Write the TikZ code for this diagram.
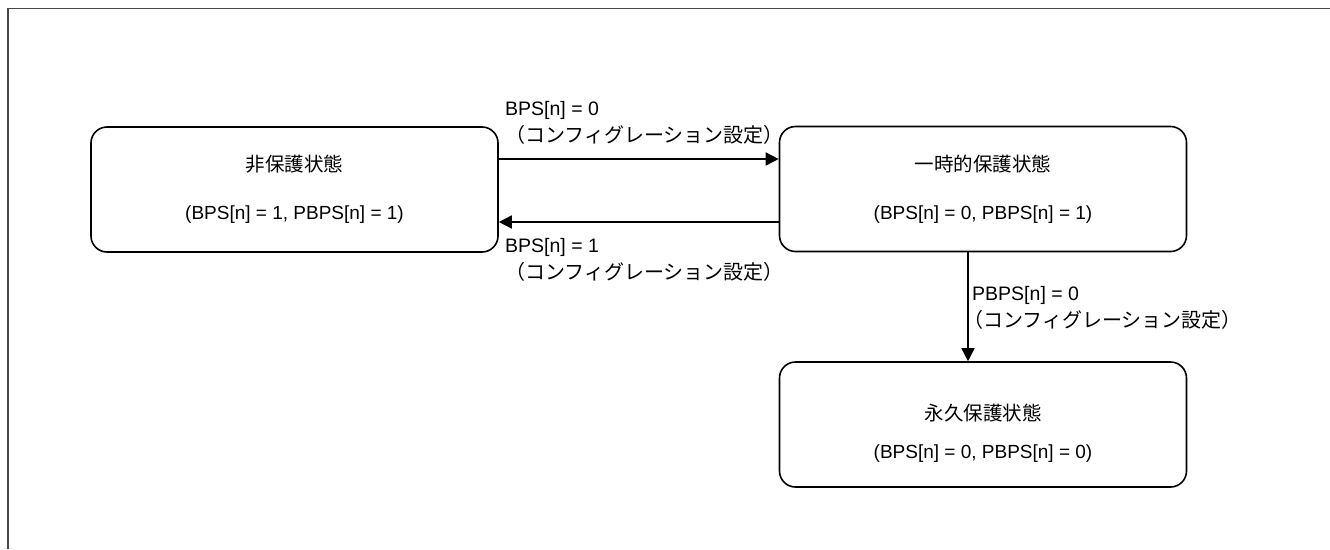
\documentclass[tikz,border=0pt]{standalone}
\usepackage{fontspec}
\setmainfont{Liberation Sans}
\newfontfamily\jp{Noto Sans CJK JP}
\usetikzlibrary{arrows.meta}
\tikzset{
    state box/.style = {draw, line width=1.6pt, rounded corners=16pt, minimum width=407pt,
        minimum height=125pt, align=center, inner sep=0pt, font=\fontsize{19}{48}\selectfont},
}
\tikzset{
    trans/.style = {draw, line width=1.5pt, -{Triangle[length=13pt, width=13pt]}},
    cond/.style = {anchor=west, align=left, inner sep=0pt, font=\fontsize{19.5}{27}\selectfont},
    frame line/.style = {draw, line width=1.3pt, black!72},
}
\newcommand{\cjkbox}[1]{{\jp\fontsize{19.5}{48}\selectfont #1}}
\newcommand{\cjklbl}[1]{{\jp\fontsize{20}{27}\selectfont #1}}

\begin{document}
\begin{tikzpicture}[x=1pt, y=-1pt]
    \useasboundingbox (0, 0) rectangle (1330, 549);
    \draw[frame line] (8, 549) -- (8, 8.5) -- (1330, 8.5);

    \node[state box] (unprot) at (294.5, 189.5) {\cjkbox{非保護状態}\\(BPS[n] = 1, PBPS[n] = 1)};
    \node[state box] (tmp) at (983, 189) {\cjkbox{一時的保護状態}\\(BPS[n] = 0, PBPS[n] = 1)};
    % title sits lower in this one
    \node[state box, font=\fontsize{19}{38}\selectfont] (perm) at (983, 424.5)
        {\cjkbox{\rule{0pt}{33pt}永久保護状態}\\(BPS[n] = 0, PBPS[n] = 0)};

    \node[cond] (set0) at (505, 123) {BPS[n] = 0\\\cjklbl{（コンフィグレーション設定）}};
    \node[cond] (set1) at (505, 260) {BPS[n] = 1\\\cjklbl{（コンフィグレーション設定）}};
    \node[cond] (lock) at (972, 307.5) {PBPS[n] = 0\\\kern-9pt\cjklbl{（コンフィグレーション設定）}};

    \draw[trans] ([yshift=30.5pt]unprot.east) -- ([yshift=30pt]tmp.west);
    \draw[trans] ([yshift=-33pt]tmp.west) -- ([yshift=-32.5pt]unprot.east);
    \draw[trans] ([xshift=-15pt]tmp.south) -- ([xshift=-15pt]perm.north);
\end{tikzpicture}
\end{document}
